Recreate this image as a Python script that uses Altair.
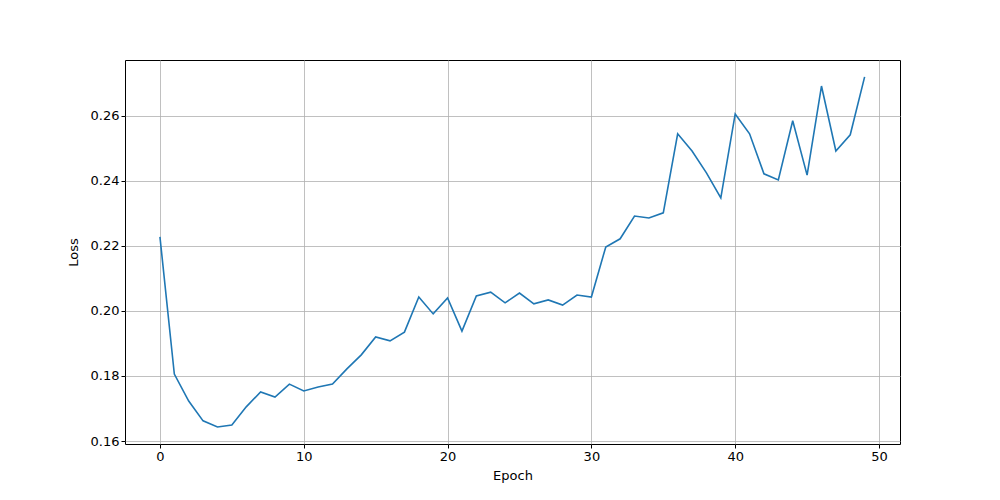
import pandas as pd
import altair as alt

epochs = list(range(50))
loss = [0.2228, 0.1806, 0.1723, 0.1662, 0.1643, 0.1649, 0.1705, 0.1751, 0.1735, 0.1775,
        0.1754, 0.1766, 0.1775, 0.1822, 0.1865, 0.1920, 0.1908, 0.1935, 0.2043, 0.1991,
        0.2040, 0.1938, 0.2046, 0.2058, 0.2025, 0.2055, 0.2022, 0.2034, 0.2018, 0.2049,
        0.2043, 0.2197, 0.2222, 0.2292, 0.2286, 0.2302, 0.2545, 0.2492, 0.2425, 0.2348,
        0.2606, 0.2545, 0.2422, 0.2403, 0.2585, 0.2418, 0.2692, 0.2492, 0.2542, 0.2720]
x_ticks = [0, 10, 20, 30, 40, 50]
y_ticks = [0.16, 0.18, 0.20, 0.22, 0.24, 0.26]

df = pd.DataFrame({'epoch': epochs, 'loss': loss})

axis_style = dict(grid=True, gridColor='#b0b0b0', gridWidth=0.8, domain=False,
                  tickColor='black', tickSize=4, labelColor='black', labelFontSize=13,
                  titleFontSize=13, titleColor='black', titleFontWeight='normal',
                  labelFont='DejaVu Sans', titleFont='DejaVu Sans')

chart = alt.Chart(df).mark_line(color='#1f77b4', strokeWidth=1.6, clip=True).encode(
    x=alt.X('epoch:Q', title='Epoch',
            scale=alt.Scale(domain=[-2.43, 51.46], nice=False, zero=False),
            axis=alt.Axis(values=x_ticks, format='d', titlePadding=6, **axis_style)),
    y=alt.Y('loss:Q', title='Loss',
            scale=alt.Scale(domain=[0.15908, 0.2772], nice=False, zero=False),
            axis=alt.Axis(values=y_ticks, format='.2f', titlePadding=10, **axis_style)),
).properties(
    width=775, height=384,
    autosize=alt.AutoSizeParams(type='none'),
    padding={'left': 117, 'top': 52, 'right': 90, 'bottom': 50},
    background='white',
).configure_view(stroke='black', strokeWidth=1)

chart.save("out.html", embed_options={"renderer": "svg", "actions": False})
